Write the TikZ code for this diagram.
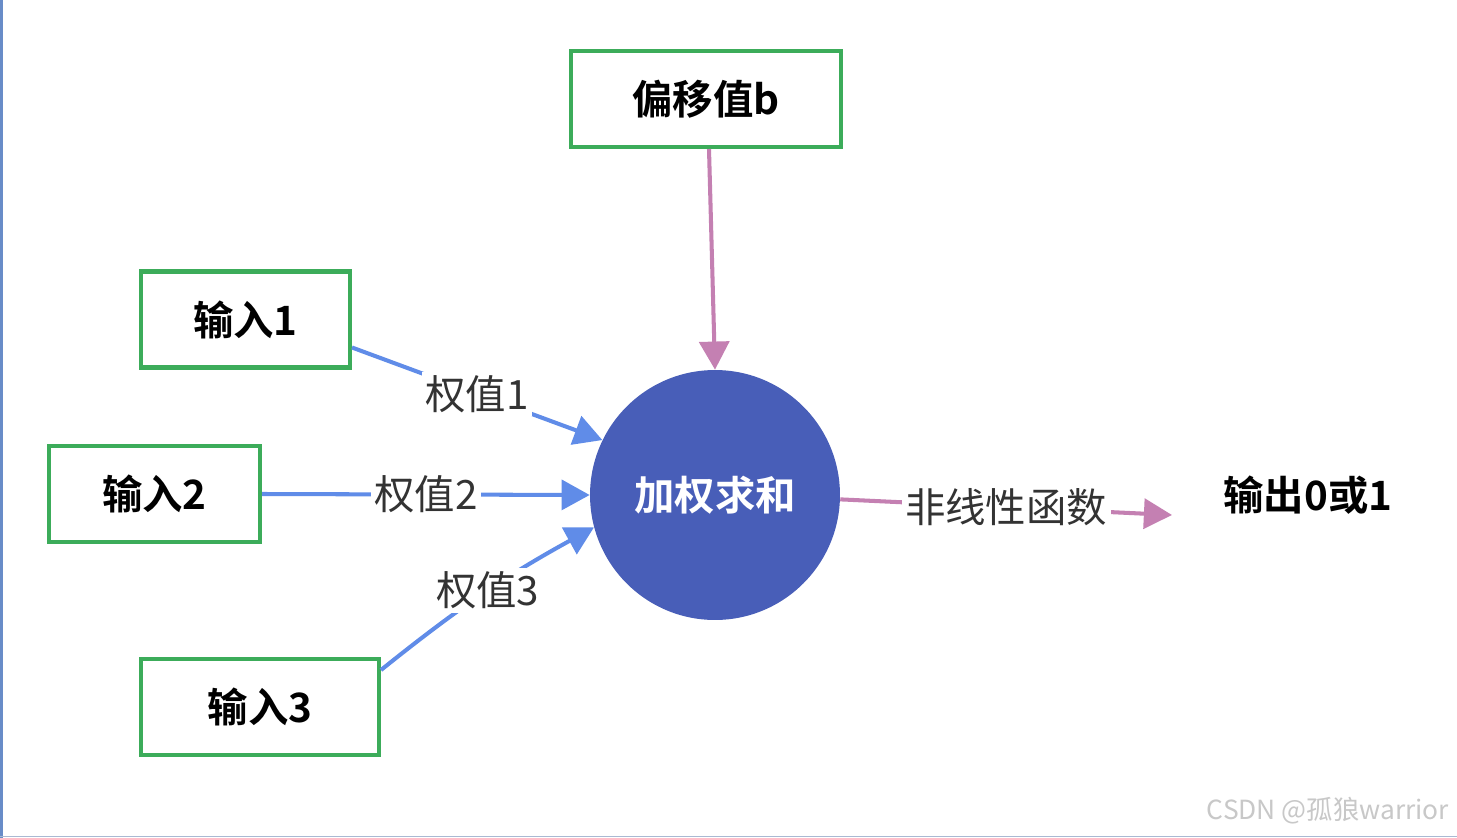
\documentclass[tikz,border=0pt]{standalone}
\usepackage{fontspec}
\setmainfont{Noto Sans CJK SC}[BoldFont={Noto Sans CJK SC Bold}]
\usepackage{tikz}
\usetikzlibrary{arrows.meta}

\definecolor{boxgreen}{RGB}{60,172,90}
\definecolor{sumblue}{RGB}{72,94,184}
\definecolor{wblue}{RGB}{96,140,232}
\definecolor{bpink}{RGB}{196,128,178}
\definecolor{labelgray}{RGB}{51,51,51}

\tikzset{
	inbox/.style={draw=boxgreen, line width=2.3pt, minimum height=1.92cm, font=\fontsize{23}{28}\selectfont\bfseries},
	sumnode/.style={circle, fill=sumblue, minimum size=5cm, text=white, font=\fontsize{23}{28}\selectfont\bfseries},
	wedge/.style={-{Triangle[length=16pt,width=17pt]}, line width=2.3pt, draw=wblue},
	pedge/.style={-{Triangle[length=16pt,width=17pt]}, line width=2.3pt, draw=bpink},
	wlabel/.style={fill=white, inner sep=2pt, text=labelgray, font=\fontsize{23}{28}\selectfont}
}

\begin{document}
\begin{tikzpicture}[x=0.02cm, y=-0.02cm]
								\useasboundingbox (0,0) rectangle (1457,838);
								\fill[white] (0,0) rectangle (1457,838);
								\draw[line width=1.7pt, color={rgb,255:red,104;green,140;blue,200}] (1.5,0) -- (1.5,838);
								\draw[line width=1pt, color={rgb,255:red,170;green,185;blue,210}] (0,836.5) -- (1457,836.5);
								
								\node[sumnode](sum) at (715,495){加权求和};
								\node[inbox, minimum width=5.4cm](bias) at (706,99){偏移值b};
								\node[inbox, minimum width=4.18cm](in1) at (245.5,319.5){输入1};
								\node[inbox, minimum width=4.22cm](in2) at (154.5,494){输入2};
								\node[inbox, minimum width=4.76cm](in3) at (260,707){输入3};
								\node[font=\fontsize{23}{28}\selectfont\bfseries](out) at (1308,495){输出0或1};
								\coordinate (outtip) at (1172,515);
								
								\path ([xshift=0.06cm]bias.south) edge[pedge] (sum.north);
								
								\path ([yshift=-0.56cm]in1.east) edge[wedge] node[wlabel]{权值1} (sum.154);
								
								\path (in2.east) edge[wedge] node[wlabel]{权值2} (sum.west);
								
								\path ([yshift=0.74cm]in3.east) edge[wedge, bend left=5] node[wlabel, pos=0.52]{权值3} (sum.195);
								
								\path (sum.-2) edge[pedge] node[wlabel]{非线性函数} (outtip);
								
								\node[text={rgb,255:red,200;green,200;blue,200}, font=\fontsize{15}{18}\selectfont](mark) at (1328,811){CSDN @孤狼warrior};
								
							\end{tikzpicture}
\end{document}
